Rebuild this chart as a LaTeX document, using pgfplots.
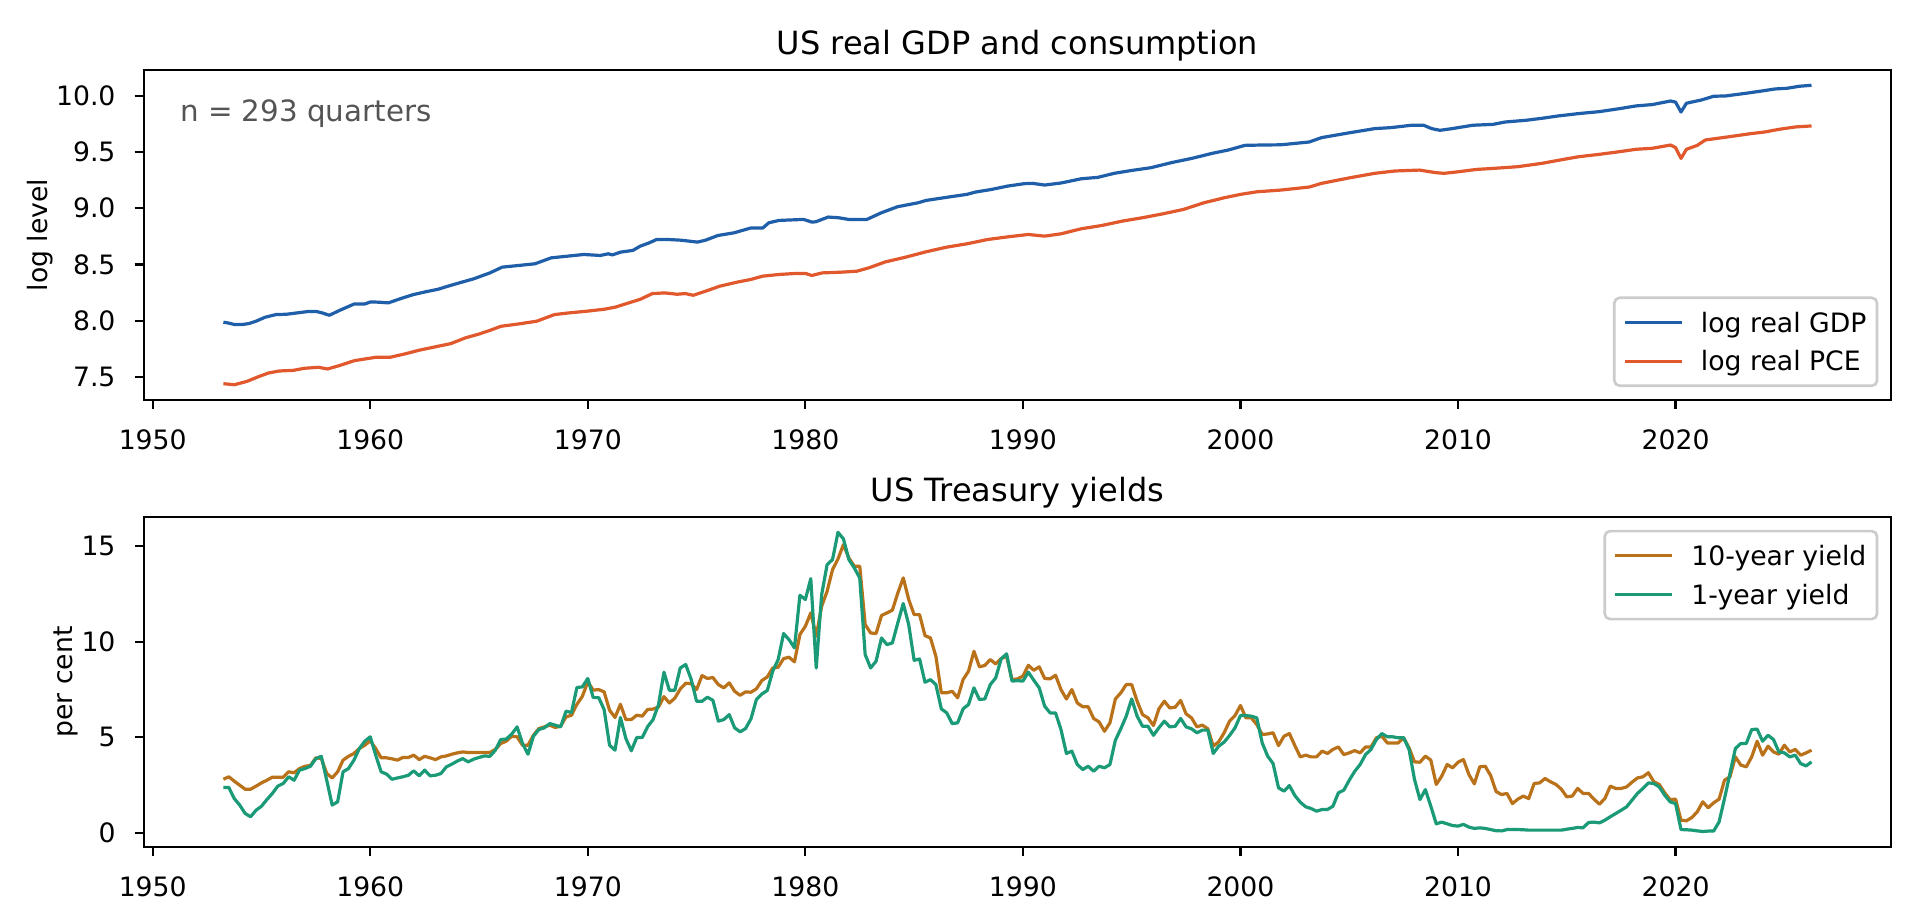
\documentclass[border=0pt]{standalone}
\usepackage{fontspec}
\setmainfont{DejaVu Sans}
\usepackage{pgfplots}
\pgfplotsset{compat=1.18}
\definecolor{cgdp}{RGB}{31,94,168}
\definecolor{cpce}{RGB}{224,88,44}
\definecolor{cten}{RGB}{186,114,26}
\definecolor{cone}{RGB}{27,154,119}
\pgfplotsset{
  myaxis/.style={
    scale only axis, width=655.1pt, height=123.5pt,
    anchor=south west,
    xmin=1949.6, xmax=2029.9,
    xtick={1950,1960,1970,1980,1990,2000,2010,2020},
    tick align=outside, tick pos=left,
    major tick length=3.5pt,
    tick style={line width=0.8pt, black},
    axis line style={line width=0.8pt},
    /pgf/number format/assume math mode=true,
    /pgf/number format/1000 sep={},
    ticklabel style={font=\fontsize{10}{12}\selectfont},
    xticklabel style={inner sep=0pt, anchor=north, yshift=-7.5pt},
    yticklabel style={inner sep=0pt, anchor=east, xshift=-7pt},
    every axis title shift=0pt,
    title style={at={(axis description cs:0.5,1)}, anchor=base, yshift=6pt, inner sep=0pt, font=\fontsize{12}{14}\selectfont},
    ylabel style={anchor=south, inner sep=0pt, font=\fontsize{10}{12}\selectfont},
    legend cell align=left,
    legend style={font=\fontsize{10}{12}\selectfont, draw=black!20, line width=1pt, rounded corners=2pt,
      fill=white, fill opacity=0.8, text opacity=1, inner xsep=4pt, inner ysep=2pt,
      column sep=7.3pt, row sep=0pt, nodes={inner sep=0pt, text height=10.9pt, text depth=3.6pt}},
    legend image code/.code={\draw[#1, line cap=rect] (0pt,0pt) -- (20pt,0pt);},
  }
}
\begin{document}
\begin{tikzpicture}
\useasboundingbox (0,0) rectangle (720pt,345.375pt);
% ---------------- top panel ----------------
\begin{axis}[myaxis, at={(54pt,195.5pt)},
  ymin=7.297, ymax=10.228,
  ytick={7.5,8.0,8.5,9.0,9.5,10.0},
  yticklabel style={/pgf/number format/.cd, fixed, fixed zerofill, precision=1},
  title={US real GDP and consumption},
  ylabel={log level},
  ylabel style={at={(axis description cs:-0.0519,0.5)}},
  legend style={at={(axis description cs:1,0)}, anchor=south east, xshift=-4.7pt, yshift=4.7pt},
]
\addplot[cgdp, line width=1.2pt, line join=round, mark=none] coordinates {
(1953.25,7.986) (1953.5,7.978) (1953.75,7.966) (1954.1,7.965) (1954.42,7.974) (1954.75,7.995)
(1955.16,8.030) (1955.66,8.054) (1956.15,8.057) (1956.64,8.069) (1957.13,8.081) (1957.54,8.081)
(1957.79,8.069) (1958.12,8.048) (1958.61,8.093) (1959.27,8.149) (1959.76,8.149) (1960.01,8.167)
(1960.42,8.164) (1960.83,8.158) (1961.41,8.197) (1961.98,8.232) (1962.55,8.257) (1963.13,8.280)
(1963.54,8.305) (1964.2,8.342) (1964.75,8.372) (1965.5,8.425) (1966.06,8.476) (1966.81,8.491)
(1967.57,8.506) (1968.32,8.559) (1969.07,8.574) (1969.82,8.589) (1970.57,8.580) (1970.94,8.595)
(1971.13,8.585) (1971.51,8.610) (1972.07,8.625) (1972.41,8.663) (1972.79,8.690) (1973.16,8.722)
(1973.72,8.722) (1974.29,8.716) (1975.04,8.699) (1975.41,8.716) (1975.98,8.758) (1976.73,8.782)
(1977.48,8.824) (1978.04,8.824) (1978.32,8.871) (1978.79,8.892) (1979.92,8.901) (1980.3,8.877)
(1980.48,8.880) (1981.05,8.922) (1981.52,8.916) (1981.99,8.901) (1982.83,8.901) (1983.49,8.960)
(1984.24,9.014) (1985.18,9.049) (1985.55,9.070) (1986.68,9.103) (1987.43,9.124) (1987.81,9.144)
(1988.56,9.168) (1989.31,9.198) (1990.06,9.219) (1990.43,9.222) (1991.0,9.207) (1991.75,9.225)
(1992.69,9.263) (1993.44,9.275) (1994.19,9.311) (1994.94,9.335) (1995.88,9.361) (1996.82,9.406)
(1997.76,9.444) (1998.7,9.489) (1999.45,9.519) (2000.2,9.560) (2000.95,9.563) (2001.85,9.565)
(2003.16,9.590) (2003.73,9.629) (2005.04,9.673) (2006.17,9.709) (2006.92,9.718) (2007.86,9.739)
(2008.42,9.739) (2008.79,9.709) (2009.17,9.694) (2009.73,9.709) (2010.67,9.739) (2011.61,9.747)
(2012.17,9.768) (2013.11,9.783) (2013.86,9.801) (2014.61,9.822) (2015.55,9.843) (2016.49,9.860)
(2017.43,9.887) (2018.18,9.911) (2018.93,9.923) (2019.77,9.955) (2020.0,9.945) (2020.25,9.857)
(2020.5,9.935) (2021.19,9.964) (2021.75,9.997) (2022.31,10.000) (2023.25,10.024) (2024.0,10.045)
(2024.57,10.062) (2025.13,10.068) (2025.69,10.086) (2026.25,10.095)
};
\addlegendentry{log real GDP}
\addplot[cpce, line width=1.2pt, line join=round, mark=none] coordinates {
(1953.25,7.439) (1953.76,7.430) (1954.34,7.460) (1954.83,7.499) (1955.32,7.534) (1955.82,7.552)
(1956.47,7.558) (1956.97,7.576) (1957.62,7.585) (1958.04,7.570) (1958.61,7.602) (1959.27,7.644)
(1959.76,7.659) (1960.26,7.674) (1960.91,7.674) (1961.57,7.703) (1962.23,7.736) (1962.89,7.763)
(1963.71,7.796) (1964.36,7.846) (1965.02,7.882) (1965.51,7.914) (1966.01,7.950) (1966.83,7.971)
(1967.65,7.995) (1968.47,8.054) (1969.13,8.069) (1969.95,8.084) (1970.77,8.102) (1971.26,8.120)
(1971.75,8.150) (1972.41,8.190) (1972.97,8.241) (1973.54,8.247) (1974.1,8.235) (1974.48,8.241)
(1974.85,8.226) (1975.41,8.262) (1976.07,8.307) (1976.92,8.345) (1977.48,8.366) (1978.04,8.396)
(1978.79,8.411) (1979.55,8.420) (1980.01,8.420) (1980.3,8.402) (1980.77,8.425) (1981.61,8.431)
(1982.36,8.440) (1982.92,8.470) (1983.68,8.523) (1984.61,8.565) (1985.55,8.613) (1986.49,8.654)
(1987.43,8.684) (1988.37,8.722) (1989.31,8.746) (1990.25,8.767) (1991.0,8.752) (1991.75,8.773)
(1992.69,8.818) (1993.63,8.847) (1994.57,8.886) (1995.5,8.916) (1996.44,8.951) (1997.38,8.990)
(1998.32,9.049) (1999.26,9.094) (2000.01,9.124) (2000.76,9.147) (2001.85,9.162) (2003.16,9.189)
(2003.73,9.222) (2005.04,9.272) (2006.17,9.311) (2007.1,9.332) (2008.23,9.340) (2008.98,9.317)
(2009.36,9.311) (2009.92,9.323) (2010.86,9.346) (2011.61,9.355) (2012.74,9.370) (2013.86,9.400)
(2014.61,9.427) (2015.55,9.459) (2016.49,9.480) (2017.43,9.504) (2018.18,9.525) (2018.93,9.534)
(2019.77,9.563) (2020.0,9.540) (2020.25,9.444) (2020.5,9.525) (2021.0,9.560) (2021.37,9.608)
(2021.94,9.623) (2022.69,9.643) (2023.44,9.664) (2024.1,9.679) (2024.76,9.703) (2025.51,9.724)
(2026.25,9.733)
};
\addlegendentry{log real PCE}
\node[anchor=base west, inner sep=0pt, text=black!67, font=\fontsize{11}{13}\selectfont]
  at (axis description cs:0.0204,0.845) {n = 293 quarters};
\end{axis}
% ---------------- bottom panel ----------------
\begin{axis}[myaxis, at={(54pt,27.9pt)},
  ymin=-0.72, ymax=16.5,
  ytick={0,5,10,15},
  title={US Treasury yields},
  ylabel={per cent},
  ylabel style={at={(axis description cs:-0.0374,0.5)}},
  legend style={at={(axis description cs:1,1)}, anchor=north east, xshift=-4.7pt, yshift=-4.7pt},
]
\addplot[cten, line width=1.2pt, line join=round, mark=none] coordinates {
(1953.25,2.80) (1953.50,2.93) (1953.75,2.70) (1954.00,2.49) (1954.25,2.28) (1954.50,2.28) (1954.75,2.44)
(1955.00,2.61) (1955.25,2.75) (1955.50,2.91) (1955.75,2.91) (1956.00,2.91) (1956.25,3.19) (1956.50,3.14)
(1956.75,3.36) (1957.00,3.48) (1957.25,3.52) (1957.50,3.92) (1957.75,3.89) (1958.00,3.10) (1958.25,2.87)
(1958.50,3.19) (1958.75,3.80) (1959.00,4.00) (1959.25,4.15) (1959.50,4.41) (1959.75,4.58) (1960.00,4.81)
(1960.25,4.41) (1960.50,3.92) (1960.75,3.92) (1961.00,3.87) (1961.25,3.80) (1961.50,3.94) (1961.75,3.94)
(1962.00,4.06) (1962.25,3.83) (1962.50,4.00) (1962.75,3.92) (1963.00,3.83) (1963.25,3.97) (1963.50,4.02)
(1963.75,4.11) (1964.00,4.18) (1964.25,4.23) (1964.50,4.20) (1964.75,4.20) (1965.00,4.20) (1965.25,4.20)
(1965.50,4.20) (1965.75,4.36) (1966.00,4.67) (1966.25,4.79) (1966.50,5.05) (1966.75,5.02) (1967.00,4.58)
(1967.25,4.58) (1967.50,5.10) (1967.75,5.45) (1968.00,5.54) (1968.25,5.63) (1968.50,5.51) (1968.75,5.58)
(1969.00,6.06) (1969.25,6.15) (1969.50,6.72) (1969.75,7.14) (1970.00,7.89) (1970.25,7.46) (1970.50,7.49)
(1970.75,7.37) (1971.00,6.41) (1971.25,6.03) (1971.50,6.72) (1971.75,5.92) (1972.00,5.92) (1972.25,6.15)
(1972.50,6.10) (1972.75,6.45) (1973.00,6.47) (1973.25,6.58) (1973.50,7.12) (1973.75,6.79) (1974.00,7.04)
(1974.25,7.52) (1974.50,7.82) (1974.75,7.80) (1975.00,7.49) (1975.25,8.22) (1975.50,8.07) (1975.75,8.12)
(1976.00,7.75) (1976.25,7.58) (1976.50,7.84) (1976.75,7.40) (1977.00,7.19) (1977.25,7.37) (1977.50,7.35)
(1977.75,7.53) (1978.00,7.96) (1978.25,8.15) (1978.50,8.62) (1978.75,8.66) (1979.00,9.11) (1979.25,9.18)
(1979.50,8.94) (1979.75,10.37) (1980.00,10.80) (1980.25,11.50) (1980.50,10.28) (1980.75,11.85) (1981.00,12.63)
(1981.25,13.76) (1981.50,14.32) (1981.75,15.07) (1982.00,14.37) (1982.25,13.94) (1982.50,13.94) (1982.75,10.89)
(1983.00,10.45) (1983.25,10.42) (1983.50,11.36) (1983.75,11.50) (1984.00,11.64) (1984.25,12.54) (1984.50,13.33)
(1984.75,12.20) (1985.00,11.41) (1985.25,11.41) (1985.50,10.31) (1985.75,10.19) (1986.00,9.23) (1986.25,7.32)
(1986.50,7.32) (1986.75,7.40) (1987.00,7.06) (1987.25,8.01) (1987.50,8.45) (1987.75,9.49) (1988.00,8.68)
(1988.25,8.75) (1988.50,9.06) (1988.75,8.83) (1989.00,9.11) (1989.25,9.23) (1989.50,8.01) (1989.75,8.05)
(1990.00,8.19) (1990.25,8.76) (1990.50,8.50) (1990.75,8.68) (1991.00,8.07) (1991.25,8.05) (1991.50,8.24)
(1991.75,7.49) (1992.00,7.00) (1992.25,7.49) (1992.50,6.79) (1992.75,6.59) (1993.00,6.59) (1993.25,5.98)
(1993.50,5.80) (1993.75,5.31) (1994.00,5.75) (1994.25,7.00) (1994.50,7.32) (1994.75,7.75) (1995.00,7.75)
(1995.25,6.88) (1995.50,6.18) (1995.75,6.01) (1996.00,5.61) (1996.25,6.48) (1996.50,6.88) (1996.75,6.53)
(1997.00,6.57) (1997.25,6.92) (1997.50,6.22) (1997.75,6.01) (1998.00,5.54) (1998.25,5.63) (1998.50,5.44)
(1998.75,4.53) (1999.00,4.76) (1999.25,5.23) (1999.50,5.84) (1999.75,6.13) (2000.00,6.66) (2000.25,6.01)
(2000.50,6.01) (2000.75,5.66) (2001.00,5.14) (2001.25,5.17) (2001.50,5.23) (2001.75,4.56) (2002.00,5.05)
(2002.25,5.19) (2002.50,4.56) (2002.75,3.97) (2003.00,4.06) (2003.25,3.97) (2003.50,3.97) (2003.75,4.27)
(2004.00,4.15) (2004.25,4.36) (2004.50,4.49) (2004.75,4.09) (2005.00,4.18) (2005.25,4.30) (2005.50,4.18)
(2005.75,4.49) (2006.00,4.49) (2006.25,4.97) (2006.50,5.05) (2006.75,4.70) (2007.00,4.70) (2007.25,4.70)
(2007.50,4.97) (2007.75,4.44) (2008.00,3.71) (2008.25,3.69) (2008.50,4.01) (2008.75,3.80) (2009.00,2.53)
(2009.25,2.96) (2009.50,3.57) (2009.75,3.40) (2010.00,3.69) (2010.25,3.83) (2010.50,3.05) (2010.75,2.56)
(2011.00,3.45) (2011.25,3.48) (2011.50,3.00) (2011.75,2.16) (2012.00,2.00) (2012.25,2.06) (2012.50,1.53)
(2012.75,1.76) (2013.00,1.92) (2013.25,1.79) (2013.50,2.58) (2013.75,2.61) (2014.00,2.84) (2014.25,2.67)
(2014.50,2.53) (2014.75,2.28) (2015.00,1.88) (2015.25,1.92) (2015.50,2.32) (2015.75,2.06) (2016.00,2.06)
(2016.25,1.76) (2016.50,1.50) (2016.75,1.79) (2017.00,2.44) (2017.25,2.32) (2017.50,2.32) (2017.75,2.40)
(2018.00,2.65) (2018.25,2.87) (2018.50,2.93) (2018.75,3.14) (2019.00,2.67) (2019.25,2.53) (2019.50,2.09)
(2019.75,1.74) (2020.00,1.76) (2020.25,0.66) (2020.50,0.63) (2020.75,0.80) (2021.00,1.10) (2021.25,1.62)
(2021.50,1.31) (2021.75,1.57) (2022.00,1.76) (2022.25,2.75) (2022.50,2.93) (2022.75,3.97) (2023.00,3.54)
(2023.25,3.45) (2023.50,3.97) (2023.75,4.79) (2024.00,4.06) (2024.25,4.53) (2024.50,4.23) (2024.75,4.11)
(2025.00,4.58) (2025.25,4.23) (2025.50,4.36) (2025.75,4.06) (2026.00,4.18) (2026.25,4.32)
};
\addlegendentry{10-year yield}
\addplot[cone, line width=1.2pt, line join=round, mark=none] coordinates {
(1953.25,2.37) (1953.50,2.37) (1953.75,1.79) (1954.00,1.45) (1954.25,1.01) (1954.50,0.84) (1954.75,1.18)
(1955.00,1.39) (1955.25,1.74) (1955.50,2.06) (1955.75,2.44) (1956.00,2.58) (1956.25,2.93) (1956.50,2.75)
(1956.75,3.28) (1957.00,3.36) (1957.25,3.48) (1957.50,3.88) (1957.75,4.00) (1958.00,2.75) (1958.25,1.45)
(1958.50,1.62) (1958.75,3.19) (1959.00,3.36) (1959.25,3.80) (1959.50,4.41) (1959.75,4.79) (1960.00,5.02)
(1960.25,4.06) (1960.50,3.19) (1960.75,3.07) (1961.00,2.80) (1961.25,2.87) (1961.50,2.93) (1961.75,3.01)
(1962.00,3.24) (1962.25,2.98) (1962.50,3.28) (1962.75,2.98) (1963.00,3.01) (1963.25,3.10) (1963.50,3.45)
(1963.75,3.59) (1964.00,3.75) (1964.25,3.88) (1964.50,3.71) (1964.75,3.85) (1965.00,3.94) (1965.25,4.02)
(1965.50,4.00) (1965.75,4.32) (1966.00,4.88) (1966.25,4.90) (1966.50,5.16) (1966.75,5.54) (1967.00,4.67)
(1967.25,4.11) (1967.50,5.05) (1967.75,5.40) (1968.00,5.49) (1968.25,5.71) (1968.50,5.63) (1968.75,5.54)
(1969.00,6.36) (1969.25,6.29) (1969.50,7.60) (1969.75,7.63) (1970.00,8.07) (1970.25,7.07) (1970.50,7.07)
(1970.75,6.45) (1971.00,4.58) (1971.25,4.32) (1971.50,6.03) (1971.75,4.93) (1972.00,4.29) (1972.25,4.98)
(1972.50,4.98) (1972.75,5.55) (1973.00,5.92) (1973.25,6.70) (1973.50,8.40) (1973.75,7.45) (1974.00,7.45)
(1974.25,8.62) (1974.50,8.80) (1974.75,8.03) (1975.00,6.88) (1975.25,6.88) (1975.50,7.09) (1975.75,6.93)
(1976.00,5.84) (1976.25,5.92) (1976.50,6.18) (1976.75,5.49) (1977.00,5.28) (1977.25,5.45) (1977.50,5.96)
(1977.75,6.97) (1978.00,7.26) (1978.25,7.44) (1978.50,8.45) (1978.75,9.06) (1979.00,10.42) (1979.25,10.10)
(1979.50,9.67) (1979.75,12.42) (1980.00,12.20) (1980.25,13.29) (1980.50,8.62) (1980.75,12.46) (1981.00,14.02)
(1981.25,14.29) (1981.50,15.71) (1981.75,15.37) (1982.00,14.29) (1982.25,13.85) (1982.50,13.33) (1982.75,9.32)
(1983.00,8.62) (1983.25,8.97) (1983.50,10.19) (1983.75,9.84) (1984.00,9.93) (1984.25,10.98) (1984.50,11.99)
(1984.75,10.89) (1985.00,9.02) (1985.25,9.09) (1985.50,7.87) (1985.75,8.01) (1986.00,7.75) (1986.25,6.48)
(1986.50,6.27) (1986.75,5.71) (1987.00,5.75) (1987.25,6.48) (1987.50,6.71) (1987.75,7.58) (1988.00,6.97)
(1988.25,7.00) (1988.50,7.75) (1988.75,8.10) (1989.00,9.09) (1989.25,9.36) (1989.50,7.93) (1989.75,7.96)
(1990.00,7.93) (1990.25,8.40) (1990.50,7.98) (1990.75,7.58) (1991.00,6.62) (1991.25,6.27) (1991.50,6.27)
(1991.75,5.40) (1992.00,4.15) (1992.25,4.27) (1992.50,3.57) (1992.75,3.31) (1993.00,3.48) (1993.25,3.22)
(1993.50,3.48) (1993.75,3.40) (1994.00,3.57) (1994.25,4.84) (1994.50,5.44) (1994.75,6.10) (1995.00,7.00)
(1995.25,6.10) (1995.50,5.57) (1995.75,5.57) (1996.00,5.10) (1996.25,5.49) (1996.50,5.84) (1996.75,5.54)
(1997.00,5.57) (1997.25,5.98) (1997.50,5.54) (1997.75,5.44) (1998.00,5.23) (1998.25,5.37) (1998.50,5.37)
(1998.75,4.15) (1999.00,4.53) (1999.25,4.74) (1999.50,5.09) (1999.75,5.49) (2000.00,6.13) (2000.25,6.13)
(2000.50,6.10) (2000.75,6.01) (2001.00,4.70) (2001.25,4.01) (2001.50,3.62) (2001.75,2.35) (2002.00,2.18)
(2002.25,2.47) (2002.50,1.95) (2002.75,1.60) (2003.00,1.36) (2003.25,1.27) (2003.50,1.13) (2003.75,1.22)
(2004.00,1.22) (2004.25,1.39) (2004.50,2.09) (2004.75,2.23) (2005.00,2.75) (2005.25,3.21) (2005.50,3.57)
(2005.75,4.09) (2006.00,4.36) (2006.25,4.88) (2006.50,5.19) (2006.75,5.02) (2007.00,5.02) (2007.25,4.97)
(2007.50,4.97) (2007.75,4.36) (2008.00,2.79) (2008.25,1.74) (2008.50,2.26) (2008.75,1.39) (2009.00,0.47)
(2009.25,0.56) (2009.50,0.47) (2009.75,0.38) (2010.00,0.35) (2010.25,0.44) (2010.50,0.30) (2010.75,0.23)
(2011.00,0.26) (2011.25,0.23) (2011.50,0.17) (2011.75,0.11) (2012.00,0.10) (2012.25,0.17) (2012.50,0.17)
(2012.75,0.17) (2013.00,0.16) (2013.25,0.14) (2013.50,0.14) (2013.75,0.14) (2014.00,0.14) (2014.25,0.14)
(2014.50,0.14) (2014.75,0.14) (2015.00,0.19) (2015.25,0.23) (2015.50,0.28) (2015.75,0.26) (2016.00,0.54)
(2016.25,0.56) (2016.50,0.52) (2016.75,0.66) (2017.00,0.84) (2017.25,1.01) (2017.50,1.18) (2017.75,1.36)
(2018.00,1.71) (2018.25,2.06) (2018.50,2.32) (2018.75,2.61) (2019.00,2.58) (2019.25,2.40) (2019.50,1.97)
(2019.75,1.62) (2020.00,1.53) (2020.25,0.17) (2020.50,0.16) (2020.75,0.14) (2021.00,0.10) (2021.25,0.07)
(2021.50,0.09) (2021.75,0.09) (2022.00,0.57) (2022.25,1.79) (2022.50,3.10) (2022.75,4.41) (2023.00,4.67)
(2023.25,4.67) (2023.50,5.40) (2023.75,5.42) (2024.00,4.79) (2024.25,5.10) (2024.50,4.88) (2024.75,4.23)
(2025.00,4.18) (2025.25,3.97) (2025.50,4.06) (2025.75,3.62) (2026.00,3.50) (2026.25,3.71)
};
\addlegendentry{1-year yield}
\end{axis}
\end{tikzpicture}
\end{document}
